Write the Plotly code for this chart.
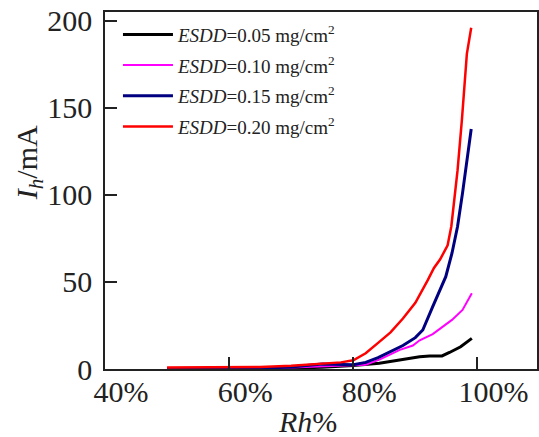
import plotly.graph_objects as go

# Data (Rh in %, leakage current Ih in mA)
names = ["0.05", "0.10", "0.15", "0.20"]
colors = ["#000000", "#ff00ff", "#000080", "#ff0000"]
widths = [3, 2, 3, 2.5]

x_005 = [50, 60, 70, 75, 80, 84.2, 87.4, 90.7, 92.3, 94.3, 95.5, 97.3, 99.1]
y_005 = [0.3, 0.3, 0.5, 1.0, 2.0, 3.3, 5.2, 7.0, 7.5, 7.5, 9.5, 12.8, 17.6]

x_010 = [50, 60, 66, 70, 75, 80, 82, 84.3, 86, 87.5, 89.6, 90.7, 92.8, 94.4, 95.9, 97.6, 99.1]
y_010 = [0.3, 0.3, 0.5, 0.8, 1.5, 1.8, 2.5, 5.5, 8.5, 11, 13.5, 16.5, 20, 24.3, 28.2, 33.9, 43.5]

x_015 = [50, 60, 66, 70, 75, 80, 82, 84, 86, 88, 90, 91.2, 92.8, 93.9, 94.9, 95.9, 96.8, 97.6, 98.3, 99]
y_015 = [0.3, 0.3, 0.5, 1.2, 2.8, 2.5, 3.8, 6.5, 10, 13.5, 18, 22.4, 35.8, 45.4, 53, 66.5, 81.8, 101, 120, 137.8]

x_020 = [50, 55, 60, 65, 70, 75, 78, 80, 82, 84, 86, 88, 90, 92, 93, 94, 94.7, 95.2, 95.8, 96.8, 97.5, 98.3, 99]
y_020 = [0.8, 0.8, 0.8, 1.2, 1.8, 3, 3.8, 5, 9, 15, 21, 29, 38, 51, 58, 63, 68, 71, 82, 114, 143, 181, 196]

xs = [x_005, x_010, x_015, x_020]
ys = [y_005, y_010, y_015, y_020]

xticks = [40, 60, 80, 100]
xticktext = ["40%", "60%", "80%", "100%"]
yticks = [0, 50, 100, 150, 200]

FONT = "Liberation Serif"

fig = go.Figure()
for i in range(4):
    fig.add_trace(go.Scatter(
        x=xs[i], y=ys[i], mode="lines",
        name="<i>ESDD</i>=" + names[i] + " mg/cm<sup>2</sup>",
        line=dict(color=colors[i], width=widths[i]),
        legendgroup="g" + str(i),
    ))

axis_common = dict(
    showgrid=False, zeroline=False, showline=True, linecolor="#222",
    linewidth=1.5, mirror=True, ticks="inside", ticklen=12, tickwidth=1.5,
    tickcolor="#222", tickfont=dict(family=FONT, size=30, color="#222"),
)

fig.update_layout(
    width=539, height=437,
    margin=dict(l=105, r=1.5, t=12, b=68),
    paper_bgcolor="white", plot_bgcolor="white",
    showlegend=True,
    legend=dict(
        x=0.03, y=0.99, xanchor="left", yanchor="top",
        font=dict(family=FONT, size=19, color="#222"),
        bgcolor="rgba(0,0,0,0)", tracegroupgap=3, itemwidth=50,
    ),
    xaxis=dict(range=[40, 109.6], tickvals=xticks, ticktext=xticktext,
               ticklabelshift=16, ticklabelstandoff=-5, **axis_common),
    yaxis=dict(range=[0, 205], tickvals=yticks, ticklabelstandoff=5, **axis_common),
    annotations=[
        dict(text="<i>I<sub>h</sub></i>/mA", textangle=-90, xref="paper", yref="paper",
             x=(29 - 105) / 433, y=(369 - 163) / 357, showarrow=False,
             xanchor="center", yanchor="middle",
             font=dict(family=FONT, size=30, color="#222")),
        dict(text="<i>Rh</i>%", xref="paper", yref="paper",
             x=(308 - 105) / 433, y=-(422 - 369) / 357, showarrow=False,
             xanchor="center", yanchor="middle",
             font=dict(family=FONT, size=30, color="#222")),
    ],
)

fig.write_html("out.html")
